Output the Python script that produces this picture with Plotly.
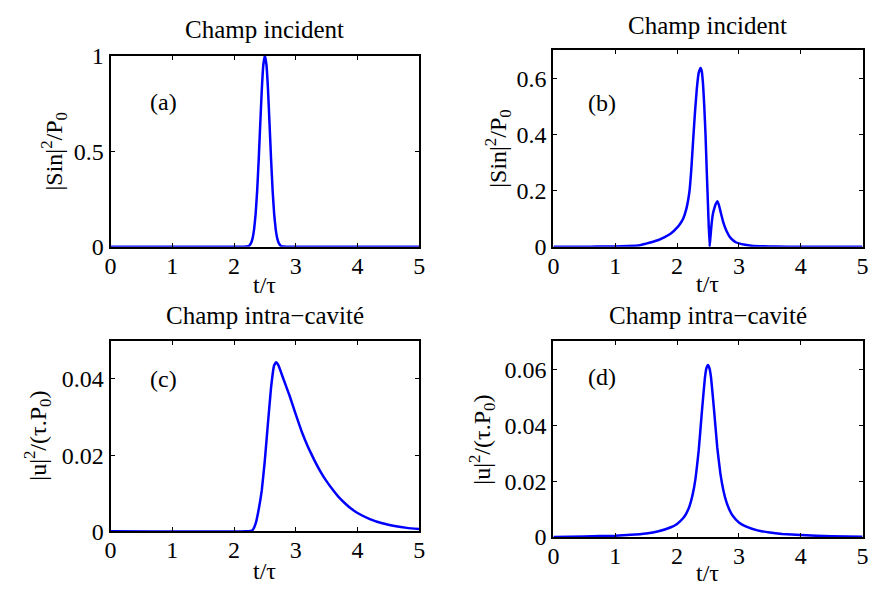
import plotly.graph_objects as go

# ---------------- data ----------------
ta = [0, 2.0, 2.15, 2.2, 2.225, 2.25, 2.275, 2.3, 2.325, 2.35, 2.375, 2.4, 2.425,
      2.45, 2.475, 2.5, 2.525, 2.55, 2.575, 2.6, 2.625, 2.65, 2.675, 2.7, 2.725,
      2.75, 2.775, 2.8, 2.85, 3.0, 5.0]
ya = [0, 0, 0.0001, 0.0009, 0.0027, 0.0076, 0.019, 0.044, 0.091, 0.172, 0.295, 0.458, 0.644,
      0.823, 0.952, 1.0, 0.952, 0.823, 0.644, 0.458, 0.295, 0.172, 0.091, 0.044, 0.019,
      0.0076, 0.0027, 0.0009, 0.0001, 0, 0]

tb = [0, 0.6, 0.8, 1.0, 1.2, 1.4, 1.5, 1.6, 1.7, 1.8, 1.9, 2.0, 2.05, 2.1, 2.15, 2.2,
      2.23, 2.26, 2.29, 2.32, 2.35, 2.38, 2.40, 2.42, 2.44, 2.46, 2.48, 2.50, 2.525,
      2.54, 2.56, 2.58, 2.6, 2.625, 2.65, 2.675, 2.7, 2.725, 2.75, 2.8, 2.85, 2.9,
      2.95, 3.0, 3.1, 3.2, 3.4, 3.6, 4.0, 5.0]
yb = [0, 0.0003, 0.0006, 0.0012, 0.0025, 0.0055, 0.011, 0.017, 0.024, 0.034, 0.047, 0.068,
      0.082, 0.101, 0.135, 0.197, 0.275, 0.38, 0.48, 0.565, 0.62, 0.637, 0.625, 0.58,
      0.50, 0.40, 0.27, 0.15, 0.0, 0.035, 0.085, 0.118, 0.135, 0.152, 0.162, 0.150,
      0.128, 0.106, 0.085, 0.056, 0.036, 0.024, 0.016, 0.012, 0.007, 0.004, 0.0015,
      0.0006, 0.0001, 0]

tc = [0, 2.2, 2.3, 2.35, 2.4, 2.45, 2.5, 2.55, 2.6, 2.65, 2.68, 2.72, 2.8, 2.85, 2.9,
      3.0, 3.1, 3.2, 3.3, 3.4, 3.5, 3.6, 3.7, 3.8, 3.9, 4.0, 4.2, 4.4, 4.6, 4.8, 5.0]
yc = [0, 0, 0.0003, 0.002, 0.0058, 0.0108, 0.0188, 0.0285, 0.0378, 0.0436, 0.0444, 0.0436,
      0.0400, 0.0378, 0.0356, 0.0307, 0.0260, 0.0221, 0.0187, 0.0157, 0.0131, 0.0109,
      0.0089, 0.0073, 0.0059, 0.0048, 0.0032, 0.0021, 0.0014, 0.0009, 0.0006]

td = [0, 0.5, 1.0, 1.25, 1.5, 1.7, 1.9, 2.0, 2.1, 2.15, 2.2, 2.25, 2.3, 2.35, 2.4, 2.45,
      2.475, 2.5, 2.525, 2.55, 2.6, 2.65, 2.7, 2.75, 2.8, 2.85, 2.9, 3.0, 3.1, 3.3, 3.5,
      3.7, 4.0, 4.5, 5.0]
yd = [0, 0.0002, 0.0005, 0.0008, 0.0013, 0.0021, 0.0035, 0.0047, 0.0068, 0.0085, 0.0110,
      0.0150, 0.0212, 0.0310, 0.0445, 0.0570, 0.0605, 0.0616, 0.0603, 0.0570, 0.0450,
      0.0320, 0.0228, 0.0166, 0.0124, 0.0096, 0.0076, 0.0052, 0.0039, 0.0024, 0.0016,
      0.0011, 0.0007, 0.0003, 0.0001]

x_ticks = [0, 1, 2, 3, 4, 5]
ya_ticks = [0, 0.5, 1]
yb_ticks = [0, 0.2, 0.4, 0.6]
yc_ticks = [0, 0.02, 0.04]
yd_ticks = [0, 0.02, 0.04, 0.06]
ya_range = [0, 1]
yb_range = [0, 0.7]
yc_range = [0, 0.05]
yd_range = [0, 0.07]

titles = ["Champ incident", "Champ incident", "Champ intra\u2212cavité", "Champ intra\u2212cavité"]
panel_labels = ["(a)", "(b)", "(c)", "(d)"]
ylabel_top = "|Sin|<sup>2</sup>/P<sub>0</sub>"
ylabel_bot = "|u|<sup>2</sup>/(\u03c4.P<sub>0</sub>)"
xlabel = "t/\u03c4"

# ---------------- figure ----------------
W, H = 875, 602
FONT = "Liberation Serif, Times New Roman, serif"
BLUE = "#0000ff"

def px(x):
    return x / W

def py(y):
    return 1 - y / H

fig = go.Figure()
series = [(ta, ya), (tb, yb), (tc, yc), (td, yd)]
for i, (t, v) in enumerate(series):
    suffix = "" if i == 0 else str(i + 1)
    fig.add_trace(go.Scatter(x=t, y=v, mode="lines",
                             line=dict(color=BLUE, width=2.5, shape="spline", smoothing=0.3),
                             xaxis="x" + suffix, yaxis="y" + suffix, showlegend=False,
                             hoverinfo="skip"))

# axes boxes (pixel positions: left, right, top, bottom)
boxes = [(106, 419, 44.5, 244.3), (555, 868.5, 39.1, 244.3),
         (106, 419, 342.7, 541.7), (555, 868.5, 343.3, 547.7)]
yticks = [ya_ticks, yb_ticks, yc_ticks, yd_ticks]
yranges = [ya_range, yb_range, yc_range, yd_range]

def fmt(v):
    return "0" if v == 0 else ("%g" % v)

common = dict(showline=True, linecolor="black", linewidth=2, mirror="ticks",
              ticks="inside", ticklen=4, tickwidth=1.2, tickcolor="black",
              showgrid=False, zeroline=False,
              tickfont=dict(family=FONT, size=24, color="black"))

layout = dict(width=W, height=H, autosize=False,
              margin=dict(l=0, r=0, t=0, b=0),
              paper_bgcolor="white", plot_bgcolor="white",
              font=dict(family=FONT, color="black"))

for i, (x0, x1, y0, y1) in enumerate(boxes):
    suffix = "" if i == 0 else str(i + 1)
    layout["xaxis" + suffix] = dict(common, domain=[px(x0), px(x1)], range=[0, 5],
                                    tickvals=x_ticks, ticktext=[str(v) for v in x_ticks],
                                    ticklabelstandoff=-4,
                                    anchor="y" + suffix)
    layout["yaxis" + suffix] = dict(common, domain=[py(y1), py(y0)], range=yranges[i],
                                    tickvals=yticks[i], ticktext=[fmt(v) for v in yticks[i]],
                                    anchor="x" + suffix)

fig.update_layout(**layout)

ann = []
title_pos = [(262.5, 17.2), (711.5, 13.3), (262.5, 316), (711.5, 316)]
xlab_pos = [(262.5, 284.5), (711.5, 283), (262.5, 583), (711.5, 585)]
ylab_pos = [(49, 144.4), (498, 141.7), (32, 442.2), (483, 445.5)]
ylabels = [ylabel_top, ylabel_top, ylabel_bot, ylabel_bot]
panel_pos = [(0.61, 0.757), (0.52, 0.514), (0.61, 0.040), (0.52, 0.0574)]

for i in range(4):
    suffix = "" if i == 0 else str(i + 1)
    ann.append(dict(text=titles[i], x=px(title_pos[i][0]), y=py(title_pos[i][1]),
                    xref="paper", yref="paper", xanchor="center", yanchor="middle",
                    showarrow=False, font=dict(family=FONT, size=25, color="black")))
    ann.append(dict(text=xlabel, x=px(xlab_pos[i][0]), y=py(xlab_pos[i][1]),
                    xref="paper", yref="paper", xanchor="center", yanchor="middle",
                    showarrow=False, font=dict(family=FONT, size=24, color="black")))
    ann.append(dict(text=ylabels[i], x=px(ylab_pos[i][0]), y=py(ylab_pos[i][1]),
                    xref="paper", yref="paper", xanchor="center", yanchor="middle",
                    textangle=-90, showarrow=False,
                    font=dict(family=FONT, size=24, color="black")))
    ann.append(dict(text=panel_labels[i], x=panel_pos[i][0], y=panel_pos[i][1],
                    xref="x" + suffix, yref="y" + suffix, xanchor="left", yanchor="middle",
                    showarrow=False, font=dict(family=FONT, size=24, color="black")))

fig.update_layout(annotations=ann)
fig.write_html("out.html", config={"displayModeBar": False},
               post_script="document.body.style.margin='0px';document.body.style.padding='0px';")
